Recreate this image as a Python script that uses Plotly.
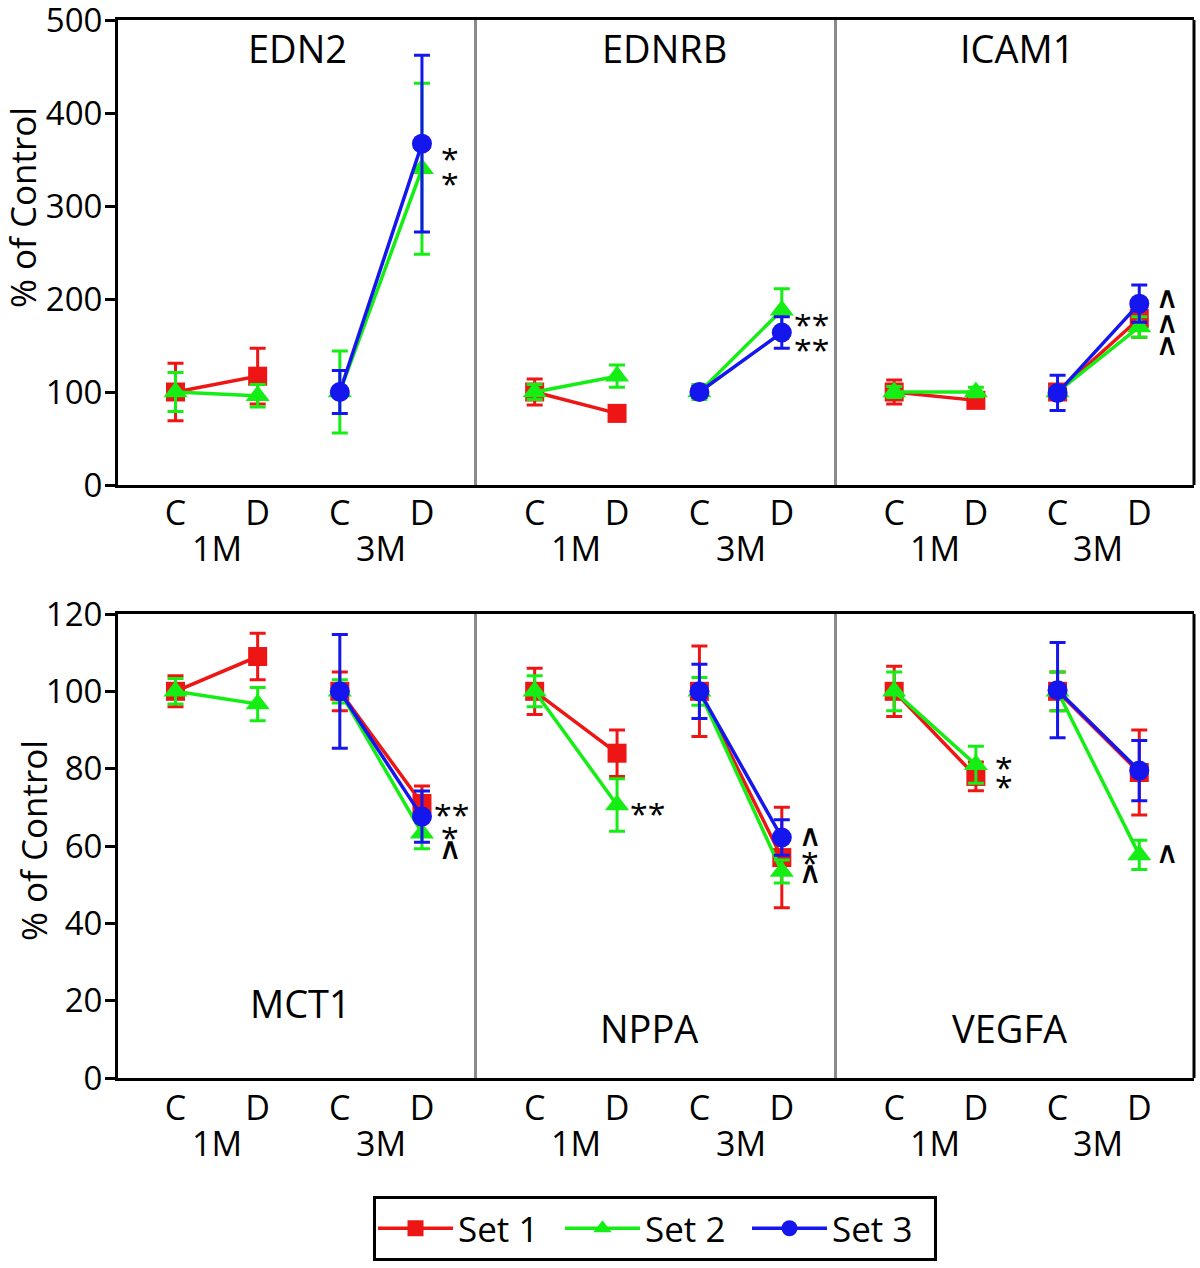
import plotly.graph_objects as go

# ---------------- data ----------------
genes = ["EDN2", "EDNRB", "ICAM1", "MCT1", "NPPA", "VEGFA"]
x_pos = [1, 2, 3, 4]
x_labels = ["C", "D", "C", "D"]
group_labels = ["1M", "3M"]
group_centers = [1.5, 3.5]

# per gene: [C 1M, D 1M, C 3M, D 3M]
set1_mean = [
    [100, 117, None, None],
    [100, 77, None, None],
    [100, 91, 100, 179],
    [100, 109, 100, 71],
    [100, 84, 100, 57],
    [100, 78, 100, 79],
]
set1_err = [
    [31, 30, None, None],
    [14, 8, None, None],
    [13, 5, 8, 20],
    [4, 6, 5, 4.5],
    [6, 6, 11.7, 13],
    [6.5, 3.7, 5, 11],
]
set2_mean = [
    [100, 96, 100, 340],
    [100, 117, 100, 188],
    [100, 100, 100, 170],
    [100, 96.7, 100, 63.3],
    [100, 70.6, 100, 53.4],
    [100, 81, 100, 57.7],
]
set2_err = [
    [21, 12, 44, 92],
    [8, 12, 8, 23],
    [6, 5, 5, 11],
    [3.3, 4.3, 3, 4],
    [4, 6.8, 3.6, 3],
    [5, 4.8, 5, 3.8],
]
set3_mean = [
    [None, None, 100, 367],
    [None, None, 100, 164],
    [None, None, 99, 195],
    [None, None, 100, 67.6],
    [None, None, 100, 62.2],
    [None, None, 100.3, 79.5],
]
set3_err = [
    [None, None, 23, 95],
    [None, None, 6, 17],
    [None, None, 19, 20],
    [None, None, 14.7, 6.6],
    [None, None, 7, 4.6],
    [None, None, 12.3, 7.8],
]
set_names = ["Set 1", "Set 2", "Set 3"]

# significance marks: (gene index, x position index, y value, text)
sig_marks = [
    (0, 3, 360, "*"), (0, 3, 333, "*"),
    (1, 3, 182, "**"), (1, 3, 155, "**"),
    (2, 3, 202, "∧"), (2, 3, 175, "∧"), (2, 3, 152, "∧"),
    (3, 3, 70.3, "**"), (3, 3, 64.4, "*"), (3, 3, 59.5, "∧"),
    (4, 1, 70.6, "**"),
    (4, 3, 62.8, "∧"), (4, 3, 58.0, "*"), (4, 3, 53.3, "∧"),
    (5, 1, 82.5, "*"), (5, 1, 77.6, "*"), (5, 3, 58.4, "∧"),
]

y_ranges = [[0, 500], [0, 120]]
y_dticks = [100, 20]

# ---------------- style ----------------
W, H = 1200, 1268
FONT = "Open Sans"
colors = ["#EE1515", "#15EE15", "#1515EE"]
symbols = ["square", "triangle-up", "circle"]
msizes = [19, 21, 20]

col_px = [(118, 477), (477, 837), (837, 1194)]
row_px = [(20, 485), (614, 1078)]


def px_x(p):
    return p / W


def px_y(p):
    return 1 - p / H


fig = go.Figure()
layout = {}
all_sets = [(set1_mean, set1_err), (set2_mean, set2_err), (set3_mean, set3_err)]

for g, gene in enumerate(genes):
    r, c = divmod(g, 3)
    ax = g + 1
    xa = "x" if ax == 1 else f"x{ax}"
    ya = "y" if ax == 1 else f"y{ax}"
    for s, (means, errs) in enumerate(all_sets):
        m = means[g]
        e = errs[g]
        if all(v is None for v in m):
            continue
        # insert a gap so 1M and 3M pairs are not joined
        xs = x_pos[:2] + [2.5] + x_pos[2:]
        ys = m[:2] + [None] + m[2:]
        es = e[:2] + [None] + e[2:]
        fig.add_trace(go.Scatter(
            x=xs, y=ys, xaxis=xa, yaxis=ya,
            mode="lines+markers",
            name=set_names[s],
            legendgroup=set_names[s],
            showlegend=(g == 0),
            connectgaps=False,
            line=dict(color=colors[s], width=3.5),
            marker=dict(symbol=symbols[s], size=msizes[s], color=colors[s],
                        line=dict(width=0)),
            error_y=dict(type="data", array=es, visible=True,
                         color=colors[s], thickness=3, width=8),
            hoverinfo="skip",
        ))
    x0, x1 = col_px[c]
    y0, y1 = row_px[r]
    layout["xaxis" if ax == 1 else f"xaxis{ax}"] = dict(
        domain=[px_x(x0), px_x(x1)], anchor=ya, range=[0.3, 4.67],
        tickvals=x_pos, ticktext=x_labels, ticks="",
        ticklabelstandoff=-4 if r == 0 else -2,
        tickfont=dict(family=FONT, size=34, color="black"),
        showline=True, linecolor="black", linewidth=3, mirror=True,
        showgrid=False, zeroline=False, fixedrange=True, automargin=False,
    )
    layout["yaxis" if ax == 1 else f"yaxis{ax}"] = dict(
        domain=[px_y(y1), px_y(y0)], anchor=xa,
        range=y_ranges[r], dtick=y_dticks[r],
        showticklabels=(c == 0), ticks="outside" if c == 0 else "",
        ticklen=10, tickwidth=3, tickcolor="black",
        ticklabeloverflow="allow", ticklabelstandoff=-4,
        tickfont=dict(family=FONT, size=33, color="black"),
        showline=True, linecolor="black" if c == 0 else "#8a8a8a", linewidth=3,
        showgrid=False, zeroline=False, fixedrange=True, automargin=False,
    )

annotations = []
shapes = []
# right borders
for r in range(2):
    y0, y1 = row_px[r]
    shapes.append(dict(type="line", xref="paper", yref="paper",
                       x0=px_x(1194), x1=px_x(1194), y0=px_y(y0), y1=px_y(y1),
                       line=dict(color="black", width=3)))

# group labels 1M / 3M
group_label_y = [548, 1143]
for g in range(6):
    r, c = divmod(g, 3)
    xa = "x" if g == 0 else f"x{g+1}"
    for gc, gl in zip(group_centers, group_labels):
        annotations.append(dict(x=gc, xref=xa, y=px_y(group_label_y[r]), yref="paper",
                                text=gl, showarrow=False,
                                font=dict(family=FONT, size=34, color="black"),
                                xanchor="center", yanchor="middle"))

# gene titles
title_px = [(297, 48), (664, 48), (1017, 48), (300, 1003), (649, 1028), (1009, 1028)]
for gene, (tx, ty) in zip(genes, title_px):
    annotations.append(dict(x=px_x(tx), y=px_y(ty), xref="paper", yref="paper",
                            text=gene, showarrow=False,
                            font=dict(family=FONT, size=38, color="black"),
                            xanchor="center", yanchor="middle"))

# y-axis titles
for (tx, ty) in [(23, 208), (33, 841)]:
    annotations.append(dict(x=px_x(tx), y=px_y(ty), xref="paper", yref="paper",
                            text="% of Control", textangle=-90, showarrow=False,
                            font=dict(family=FONT, size=35, color="black"),
                            xanchor="center", yanchor="middle"))

# significance marks
for (g, xi, yv, txt) in sig_marks:
    xa = "x" if g == 0 else f"x{g+1}"
    ya = "y" if g == 0 else f"y{g+1}"
    is_star = "*" in txt
    annotations.append(dict(x=x_pos[xi], y=yv, xref=xa, yref=ya, text=txt,
                            showarrow=False, xanchor="center", yanchor="middle",
                            xshift=28 if txt != "**" else 30,
                            yshift=-8 if is_star else -1,
                            height=20,
                            font=dict(family=FONT if is_star else "DejaVu Sans",
                                      size=32 if is_star else 36, color="black")))

fig.update_layout(
    width=W, height=H,
    margin=dict(l=0, r=0, t=0, b=0, autoexpand=False),
    paper_bgcolor="white", plot_bgcolor="white",
    showlegend=True,
    legend=dict(orientation="h", x=px_x(655), xanchor="center",
                y=px_y(1196), yanchor="top",
                font=dict(family=FONT, size=35, color="black"),
                bordercolor="black", borderwidth=3, bgcolor="white",
                itemwidth=75, entrywidth=97, entrywidthmode="pixels"),
    annotations=annotations,
    shapes=shapes,
    **layout,
)

fig.write_html("out.html", config={"displayModeBar": False},
               post_script="document.body.style.margin='0px';")
